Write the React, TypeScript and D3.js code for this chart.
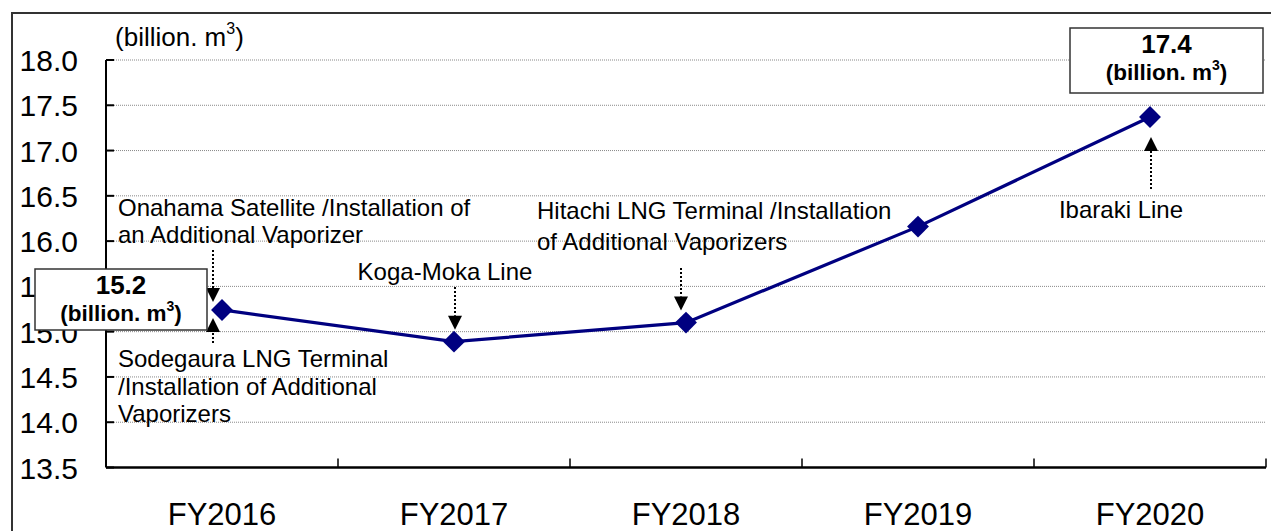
import * as d3 from 'd3';

const years = ['FY2016', 'FY2017', 'FY2018', 'FY2019', 'FY2020'];
const volumes = [15.24, 14.89, 15.1, 16.16, 17.37];
const yTicks = [13.5, 14.0, 14.5, 15.0, 15.5, 16.0, 16.5, 17.0, 17.5, 18.0];
const unitLabel = 'billion. m';

const W = 1271;
const H = 531;
const FONT = 'Arial, "Liberation Sans", sans-serif';

const x = d3.scaleBand<string>().domain(years).range([106, 1266]);
const y = d3.scaleLinear().domain([13.5, 18]).range([467.5, 60]);

const line = d3
  .line<number>()
  .x((_, i) => (x(years[i]) as number) + x.bandwidth() / 2)
  .y((d) => y(d));

const diamond = d3.symbol().type(d3.symbolSquare).size(240)() as string;

const cx = (yr: string) => (x(yr) as number) + x.bandwidth() / 2;

// dotted arrow: from (ax, y0) to tip (ax, tipY)
const Arrow = ({ ax, from, tip }: { ax: number; from: number; tip: number }) => {
  const dir = tip > from ? 1 : -1;
  const headLen = 14;
  const base = tip - dir * headLen;
  return (
    <g>
      <line x1={ax} x2={ax} y1={from} y2={base} stroke="#000" strokeWidth={2} strokeDasharray="2,2" />
      <path d={`M${ax - 7},${base}L${ax + 7},${base}L${ax},${tip}Z`} fill="#000" />
    </g>
  );
};

const ValueBox = ({ x0, y0, w, h, value }: { x0: number; y0: number; w: number; h: number; value: number }) => (
  <g>
    <rect x={x0} y={y0} width={w} height={h} fill="#fff" stroke="#333" strokeWidth={1.5} />
    <text x={x0 + w / 2} y={y0 + 25} textAnchor="middle" fontSize={26} fontWeight="bold" fontFamily={FONT}>
      {value.toFixed(1)}
    </text>
    <text x={x0 + w / 2} y={y0 + 52} textAnchor="middle" fontSize={22.5} fontWeight="bold" fontFamily={FONT}>
      ({unitLabel}
      <tspan fontSize={14} dy={-10}>3</tspan>
      <tspan dy={10}>)</tspan>
    </text>
  </g>
);

export default function App() {
  const pts = volumes.map((v, i) => ({ x: cx(years[i]), y: y(v), v }));
  const [p16, p17, p18, , p20] = pts;
  const annot = { fontSize: 24, fontFamily: FONT, fill: '#000' };

  return (
    <svg width={W} height={H} style={{ position: 'absolute', left: 0, top: 0, background: '#fff' }}>
      {/* outer frame */}
      <rect x={12} y={13} width={W + 20} height={H + 20} fill="none" stroke="#333" strokeWidth={2} />

      {/* gridlines */}
      {yTicks.slice(1).map((t) => (
        <line key={t} x1={106} x2={1266} y1={y(t)} y2={y(t)} stroke="#888" strokeWidth={1} strokeDasharray="1,1" />
      ))}

      {/* y axis */}
      <line x1={106} x2={106} y1={y(18)} y2={y(13.5)} stroke="#000" strokeWidth={2} />
      {yTicks.map((t) => (
        <g key={t}>
          <line x1={106} x2={114} y1={y(t)} y2={y(t)} stroke="#000" strokeWidth={2} />
          <text x={78} y={y(t) + 11} textAnchor="end" fontSize={30} fontFamily={FONT} fill="#000">
            {t.toFixed(1)}
          </text>
        </g>
      ))}
      <text x={115} y={46} fontSize={26} fontFamily={FONT} fill="#000">
        ({unitLabel}
        <tspan fontSize={16} dy={-12}>3</tspan>
        <tspan dy={12}>)</tspan>
      </text>

      {/* x axis */}
      <line x1={106} x2={1266} y1={y(13.5)} y2={y(13.5)} stroke="#000" strokeWidth={2.5} />
      {years.map((yr) => (
        <g key={yr}>
          <line
            x1={(x(yr) as number) + x.bandwidth()}
            x2={(x(yr) as number) + x.bandwidth()}
            y1={y(13.5)}
            y2={y(13.5) - 9}
            stroke="#000"
            strokeWidth={1.5}
          />
          <text x={cx(yr)} y={525} textAnchor="middle" fontSize={31} fontFamily={FONT} fill="#000">
            {yr}
          </text>
        </g>
      ))}

      {/* annotations text */}
      <text {...annot} x={118}>
        <tspan x={118} y={216}>Onahama Satellite /Installation of</tspan>
        <tspan x={118} y={243}>an Additional Vaporizer</tspan>
      </text>
      <text {...annot} x={118}>
        <tspan x={118} y={367}>Sodegaura LNG Terminal</tspan>
        <tspan x={118} y={395}>/Installation of Additional</tspan>
        <tspan x={118} y={422}>Vaporizers</tspan>
      </text>
      <text {...annot} x={445} y={280} textAnchor="middle">Koga-Moka Line</text>
      <text {...annot} x={537}>
        <tspan x={537} y={219}>Hitachi LNG Terminal /Installation</tspan>
        <tspan x={537} y={250}>of Additional Vaporizers</tspan>
      </text>
      <text {...annot} x={1121} y={218} textAnchor="middle">Ibaraki Line</text>

      {/* arrows */}
      <Arrow ax={p16.x - 9} from={250} tip={p16.y - 8} />
      <Arrow ax={p16.x - 9} from={343} tip={p16.y + 8} />
      <Arrow ax={p17.x + 1} from={287} tip={p17.y - 12} />
      <Arrow ax={p18.x - 5} from={268} tip={p18.y - 12} />
      <Arrow ax={p20.x + 1} from={189} tip={p20.y + 20} />

      {/* series line */}
      <path d={line(volumes) as string} fill="none" stroke="#000080" strokeWidth={3.2} />
      {pts.map((p, i) => (
        <path key={years[i]} d={diamond} transform={`translate(${p.x},${p.y}) rotate(45)`} fill="#000080" />
      ))}

      {/* value boxes */}
      <ValueBox x0={35} y0={269} w={172} h={61} value={15.2} />
      <ValueBox x0={1070} y0={28} w={193} h={65} value={17.4} />
    </svg>
  );
}
